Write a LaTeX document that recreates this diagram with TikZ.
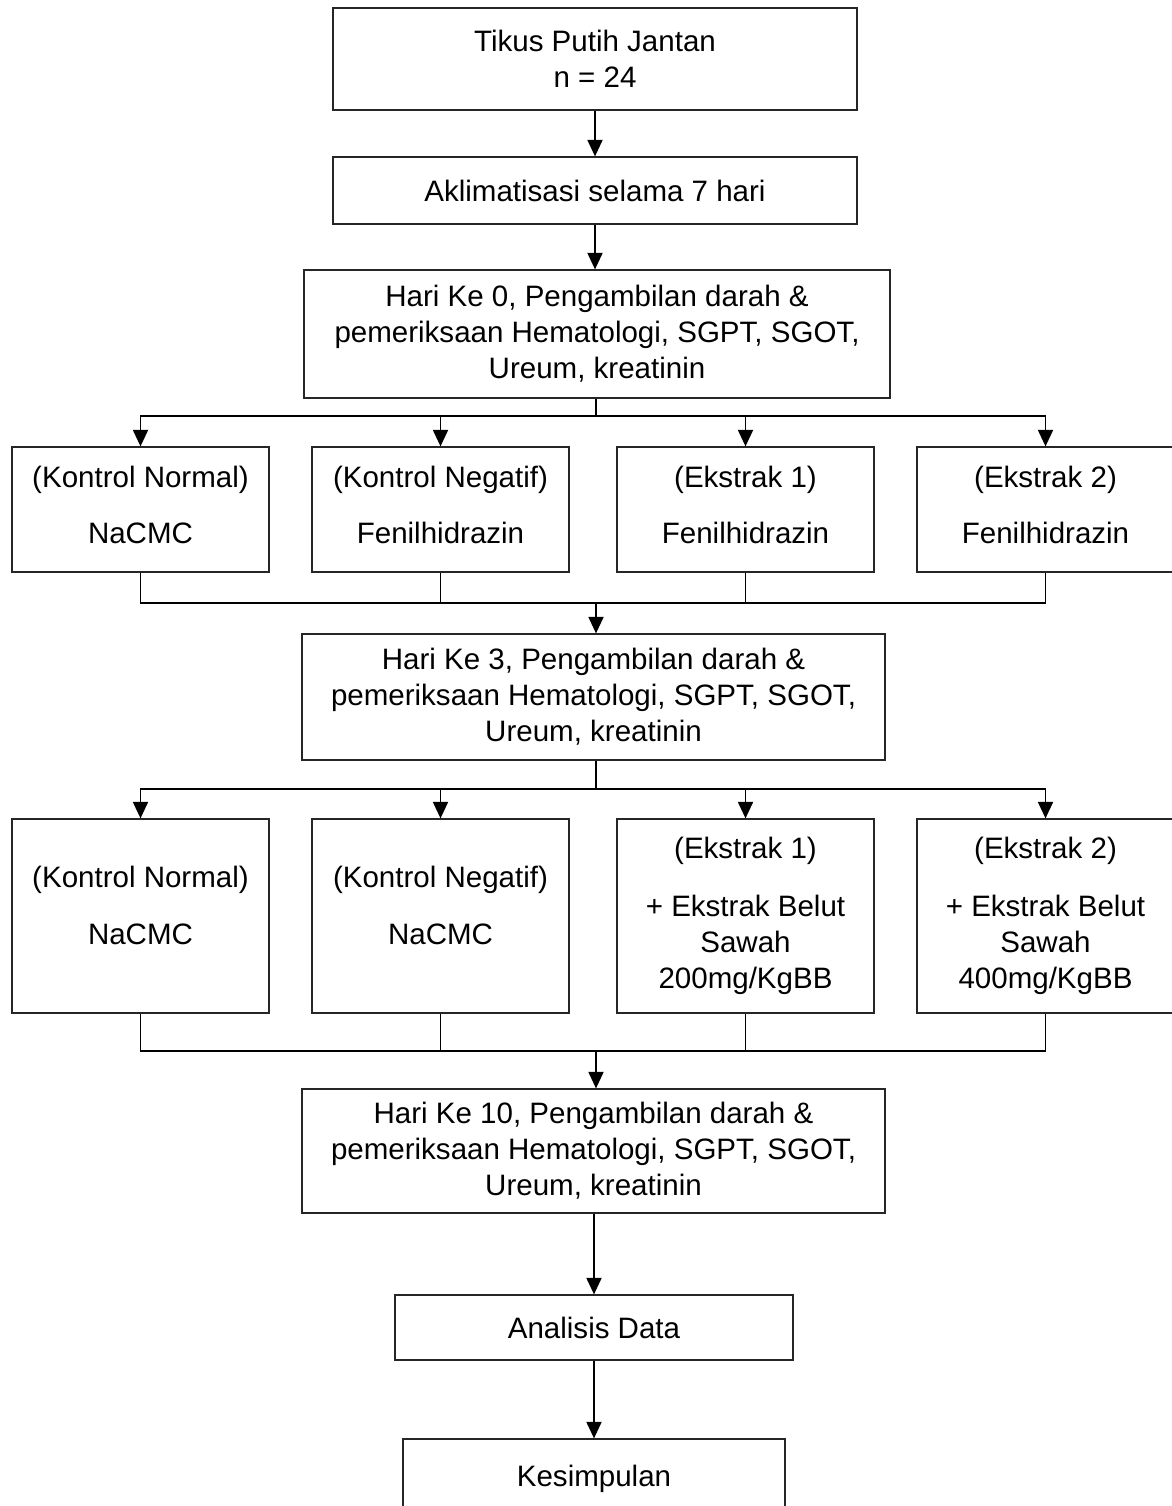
\documentclass[tikz,border=0pt]{standalone}
\usepackage{fontspec}
\setmainfont{Liberation Sans}
\usetikzlibrary{arrows.meta}
\begin{document}
\begin{tikzpicture}[x=0.02cm,y=-0.02cm,
  font=\fontsize{16.8pt}{20.5pt}\selectfont,
  box/.style={draw=black!85,line width=0.7pt,align=center,inner sep=0pt},
  txt/.style={align=center,inner sep=0pt},
  conn/.style={line width=1.05pt},
  arr/.style={line width=1.05pt,-{Triangle[length=0.33cm,width=0.3cm]}}]
\useasboundingbox (0,0) rectangle (1171,1506);
% top boxes
\node[box,minimum width=10.48cm,minimum height=2.04cm] (b1) at (595,59) {Tikus Putih Jantan\\n = 24};
\node[box,minimum width=10.48cm,minimum height=1.34cm] (b2) at (595,190.5) {Aklimatisasi selama 7 hari};
\node[box,minimum width=11.72cm,minimum height=2.56cm] (b3) at (597,334) {Hari Ke 0, Pengambilan darah \&\\pemeriksaan Hematologi, SGPT, SGOT,\\Ureum, kreatinin};
% row 1
\node[box,minimum width=5.14cm,minimum height=2.5cm] (r1a) at (140.5,509.5) {};
\node[txt] (r1at) at (140.5,505) {(Kontrol Normal)\\[11.4pt]NaCMC};
\node[box,minimum width=5.14cm,minimum height=2.5cm] (r1b) at (440.5,509.5) {};
\node[txt] (r1bt) at (440.5,505) {(Kontrol Negatif)\\[11.4pt]Fenilhidrazin};
\node[box,minimum width=5.14cm,minimum height=2.5cm] (r1c) at (745.5,509.5) {};
\node[txt] (r1ct) at (745.5,505) {(Ekstrak 1)\\[11.4pt]Fenilhidrazin};
\node[box,minimum width=5.14cm,minimum height=2.5cm] (r1d) at (1045.5,509.5) {};
\node[txt] (r1dt) at (1045.5,505) {(Ekstrak 2)\\[11.4pt]Fenilhidrazin};
% middle box
\node[box,minimum width=11.66cm,minimum height=2.52cm] (b4) at (593.5,697) {Hari Ke 3, Pengambilan darah \&\\pemeriksaan Hematologi, SGPT, SGOT,\\Ureum, kreatinin};
% row 2
\node[box,minimum width=5.14cm,minimum height=3.88cm] (r2a) at (140.5,916) {};
\node[txt] (r2at) at (140.5,905.5) {(Kontrol Normal)\\[12pt]NaCMC};
\node[box,minimum width=5.14cm,minimum height=3.88cm] (r2b) at (440.5,916) {};
\node[txt] (r2bt) at (440.5,905.5) {(Kontrol Negatif)\\[12pt]NaCMC};
\node[box,minimum width=5.14cm,minimum height=3.88cm] (r2c) at (745.5,916) {(Ekstrak 1)\\[12.5pt]+ Ekstrak Belut\\Sawah\\200mg/KgBB};
\node[box,minimum width=5.14cm,minimum height=3.88cm] (r2d) at (1045.5,916) {(Ekstrak 2)\\[12.5pt]+ Ekstrak Belut\\Sawah\\400mg/KgBB};
% lower boxes
\node[box,minimum width=11.66cm,minimum height=2.48cm] (b5) at (593.5,1151) {Hari Ke 10, Pengambilan darah \&\\pemeriksaan Hematologi, SGPT, SGOT,\\Ureum, kreatinin};
\node[box,minimum width=7.96cm,minimum height=1.3cm] (b6) at (594,1327.5) {Analisis Data};
\node[box,minimum width=7.64cm,minimum height=1.6cm] (b7) at (594,1479) {Kesimpulan};
% junctions
\coordinate (j1) at (596,416);
\coordinate (m1) at (596,603);
\coordinate (j2) at (596,789);
\coordinate (m2) at (596,1051);
% connectors
\draw[arr] (b1.south) -- (b2.north);
\draw[arr] (b2.south) -- (b2.south |- b3.north);
\draw[conn] (j1 |- b3.south) -- (j1);
\draw[arr] (j1) -| (r1a.north);
\draw[arr] (j1) -| (r1b.north);
\draw[arr] (j1) -| (r1c.north);
\draw[arr] (j1) -| (r1d.north);
\draw[conn] (r1a.south) |- (m1);
\draw[conn] (r1b.south) |- (m1);
\draw[conn] (r1c.south) |- (m1);
\draw[conn] (r1d.south) |- (m1);
\draw[arr] (m1) -- (m1 |- b4.north);
\draw[conn] (j2 |- b4.south) -- (j2);
\draw[arr] (j2) -| (r2a.north);
\draw[arr] (j2) -| (r2b.north);
\draw[arr] (j2) -| (r2c.north);
\draw[arr] (j2) -| (r2d.north);
\draw[conn] (r2a.south) |- (m2);
\draw[conn] (r2b.south) |- (m2);
\draw[conn] (r2c.south) |- (m2);
\draw[conn] (r2d.south) |- (m2);
\draw[arr] (m2) -- (m2 |- b5.north);
\draw[arr] (b5.south -| b6.north) -- (b6.north);
\draw[arr] (b6.south) -- (b7.north);
\end{tikzpicture}
\end{document}
